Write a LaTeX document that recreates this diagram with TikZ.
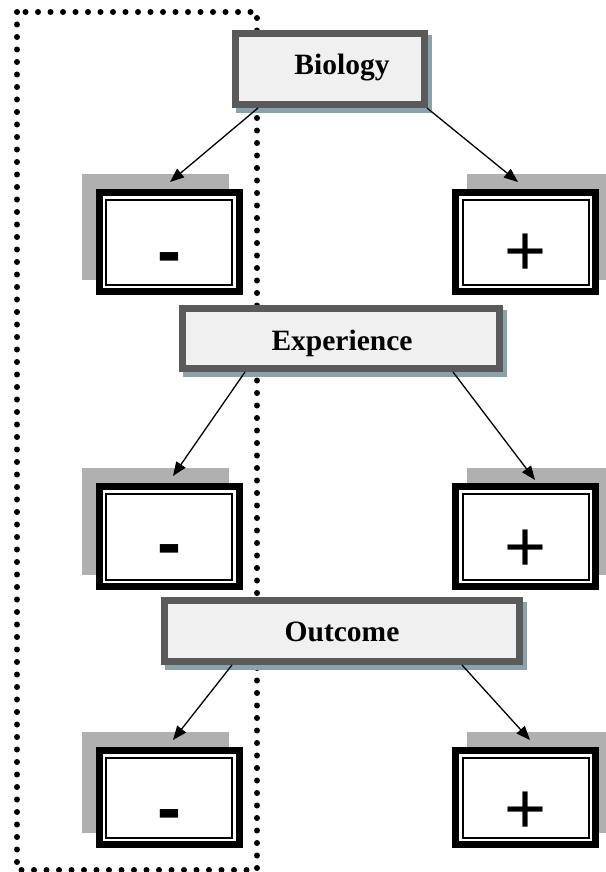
\documentclass[tikz,border=0pt]{standalone}
\usepackage{fontspec}
\setmainfont{Liberation Serif}
\newfontfamily\signfont{Liberation Sans}
\usetikzlibrary{arrows.meta,shadows}
\definecolor{boxgray}{HTML}{5A5A5A}
\definecolor{boxfill}{HTML}{F0F0F0}
\definecolor{tealshadow}{HTML}{8AA3AB}
\definecolor{chkgray}{HTML}{B0B0B0}
\begin{document}
\begin{tikzpicture}[x=1pt,y=-1pt,
  catbox/.style={draw=boxgray, fill=boxfill, line width=7pt, inner sep=0pt,
    general shadow={shadow xshift=4pt, shadow yshift=-5pt, fill=tealshadow, draw=tealshadow}},
  catlabel/.style={anchor=base, inner sep=0pt, font=\bfseries\fontsize{29.5}{30}\selectfont},
  valbox/.style={draw=black, fill=white, line width=7pt, inner sep=0pt, minimum width=140pt},
  lshadow/.style={general shadow={shadow xshift=-14pt, shadow yshift=15pt, fill=chkgray, draw=chkgray}},
  rshadow/.style={general shadow={shadow xshift=15pt, shadow yshift=15pt, fill=chkgray, draw=chkgray}},
  innerline/.style={draw=black, line width=2pt},
  sign/.style={anchor=base, inner sep=0pt, font=\signfont\fontsize{72}{72}\selectfont},
  minussign/.style={sign, font=\signfont\bfseries\fontsize{72}{72}\selectfont},
  arr/.style={line width=1.3pt, -{Triangle[length=14pt,width=11pt]}},
  dotline/.style={line width=6pt, line cap=round, dash pattern=on 0pt off 12.5pt}
]
\useasboundingbox (0,0) rectangle (605,872);
% dotted enclosure
\draw[dotline] (17,12) rectangle (257,870);

% category boxes
\node[catbox, minimum width=189pt, minimum height=71pt] (bio) at (330,69) {};
\node[catbox, minimum width=317pt, minimum height=60pt] (exp) at (341,338.5) {};
\node[catbox, minimum width=355pt, minimum height=61pt] (out) at (342,631) {};

% value boxes
\node[valbox, lshadow, minimum height=99pt] (m1) at (169,242) {};
\node[valbox, rshadow, minimum height=99pt] (p1) at (525.5,242) {};
\node[valbox, lshadow, minimum height=100pt] (m2) at (169,536.5) {};
\node[valbox, rshadow, minimum height=100pt] (p2) at (525.5,536.5) {};
\node[valbox, lshadow, minimum height=94pt] (m3) at (169,797.5) {};
\node[valbox, rshadow, minimum height=94pt] (p3) at (525.5,797.5) {};
\foreach \n in {m1,p1,m2,p2,m3,p3}
  \draw[innerline] ([xshift=10.5pt,yshift=-10.5pt]\n.north west) rectangle ([xshift=-10.5pt,yshift=10.5pt]\n.south east);

% labels
\node[catlabel] (bioT) at (342,75) {Biology};
\node[catlabel] (expT) at (342,350) {Experience};
\node[catlabel] (outT) at (342,641) {Outcome};

\node[minussign] (m1s) at (169.5,275) {-};
\node[sign] (p1s) at (525.5,275) {+};
\node[minussign] (m2s) at (169.5,567.5) {-};
\node[sign] (p2s) at (525.5,571.5) {+};
\node[minussign] (m3s) at (169.5,832) {-};
\node[sign] (p3s) at (525.5,833.5) {+};

% arrow targets
\coordinate (t1) at (170,182);
\coordinate (t2) at (518,182);
\coordinate (t3) at (173,476);
\coordinate (t4) at (535,480);
\coordinate (t5) at (173,740);
\coordinate (t6) at (530,740);

\draw[arr] (258,0 |- bio.south) -- (t1);
\draw[arr] (427,0 |- bio.south) -- (t2);
\draw[arr] (245,0 |- exp.south) -- (t3);
\draw[arr] (453,0 |- exp.south) -- (t4);
\draw[arr] (232,0 |- out.south) -- (t5);
\draw[arr] (462,0 |- out.south) -- (t6);
\end{tikzpicture}
\end{document}
